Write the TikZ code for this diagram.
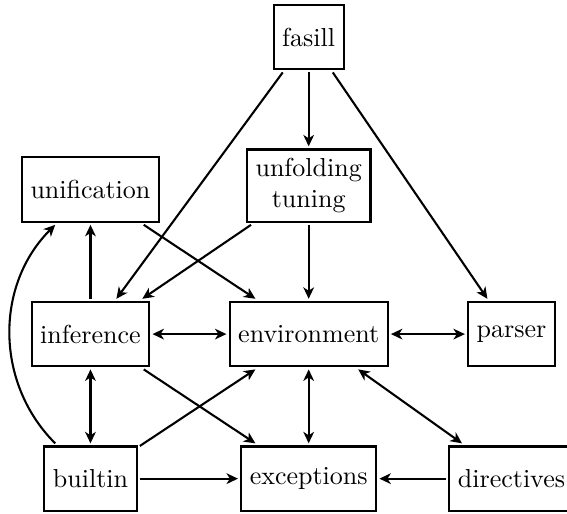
\documentclass[tikz,border=0pt]{standalone}
\usetikzlibrary{positioning,calc,arrows.meta}

\begin{document}
\begin{tikzpicture}[node distance=1cm,
    module/.style={draw,thick,rectangle,minimum height=0.87cm,outer sep=1.2pt,align=center},
    link/.style={thick,->,>={Stealth[length=4.4pt,width=4.1pt,inset=1.3pt]}}]

    % middle row
    \node[module] (infer) {inference};
    \node[module,right=of infer] (env) {environment};
    \node[module,right=of env] (parser) {parser};
    % upper rows
    \node[module,above=of infer] (unif) {unification};
    \node[module,above=of env] (unfold) {unfolding\\tuning};
    \node[module,above=of unfold] (fasill) {fasill};
    % bottom row
    \node[module,below=of infer] (builtin) {builtin};
    \node[module,below=of env] (exc) {exceptions};
    \node[module,below=of parser] (direct) {directives};

    \draw[link] (fasill) -- (unfold);
    \draw[link] (fasill) -- (infer);
    \draw[link] (fasill) -- (parser);
    \draw[link] (unfold) -- (infer);
    \draw[link] (unfold) -- (env);
    \draw[link] (unif) -- (env);
    \draw[link] (infer) -- (unif);
    \draw[link,<->] (infer) -- (env);
    \draw[link,<->] (env) -- (parser);
    \draw[link,<->] (infer) -- (builtin);
    \draw[link] (infer) -- (exc);
    \draw[link] (builtin) -- (env);
    \draw[link,<->] (env) -- (exc);
    \draw[link,<->] (env) -- (direct);
    \draw[link] (builtin) -- (exc);
    \draw[link] (direct) -- (exc);
    \draw[link] (builtin) to[bend left=45] (unif);% long way round

    \pgfresetboundingbox
    \useasboundingbox ($(infer.center |- builtin.south)+(-34.8pt,0)$) rectangle ++(218.1pt,197.7pt);
\end{tikzpicture}
\end{document}
